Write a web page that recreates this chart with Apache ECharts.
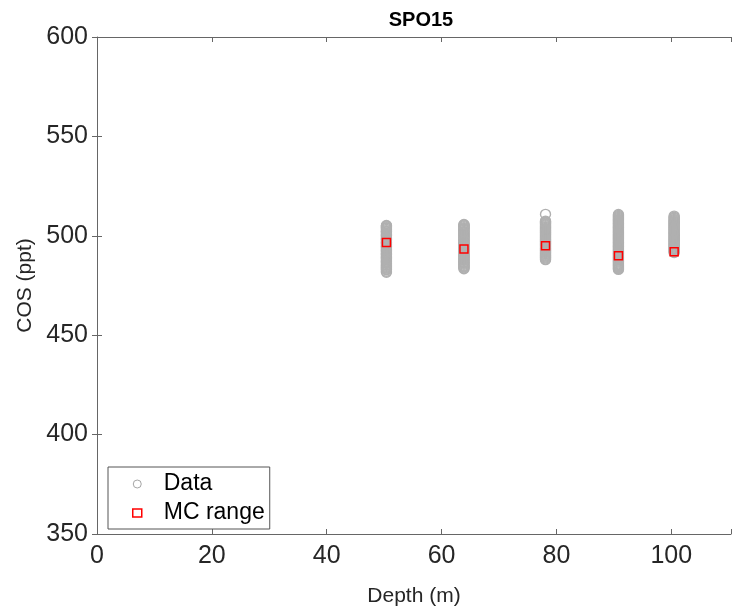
<!DOCTYPE html>
<html><head><meta charset="utf-8">
<script src="https://cdn.jsdelivr.net/npm/echarts@6/dist/echarts.min.js"></script>
<style>html,body{margin:0;padding:0;background:#fff}#c{width:734px;height:612px}</style>
</head><body><div id="c"></div>
<script>
const depths = [50.4, 63.9, 78.1, 90.8, 100.5];
const col1 = [481.7, 482.2, 482.9, 483.3, 483.8, 484.2, 484.6, 485.1, 485.5, 486.1, 486.7, 487.0, 487.4, 488.0, 488.6, 488.9, 489.3, 489.9, 490.5, 490.8, 491.2, 491.8, 492.4, 492.7, 493.1, 493.7, 494.3, 494.6, 495.0, 495.6, 496.2, 496.5, 496.9, 497.5, 498.1, 498.4, 498.8, 499.4, 500.0, 500.3, 500.7, 501.3, 501.9, 502.2, 502.6, 503.2, 503.8, 504.1, 504.5, 504.9, 505.2];
const col2 = [483.4, 483.8, 484.3, 484.7, 485.1, 485.7, 486.2, 486.6, 487.0, 487.6, 488.1, 488.5, 488.9, 489.5, 490.0, 490.4, 490.8, 491.4, 491.9, 492.3, 492.7, 493.3, 493.8, 494.2, 494.6, 495.2, 495.7, 496.1, 496.5, 497.1, 497.6, 498.0, 498.4, 499.0, 499.5, 499.9, 500.3, 500.9, 501.4, 501.8, 502.2, 502.8, 503.3, 503.7, 504.1, 504.6, 505.0, 505.4, 505.7];
const col3 = [488.0, 488.4, 488.9, 489.3, 489.8, 490.2, 490.7, 491.1, 491.6, 492.0, 492.5, 492.9, 493.4, 493.8, 494.3, 494.7, 495.2, 495.6, 496.1, 496.5, 497.0, 497.4, 497.9, 498.3, 498.8, 499.2, 499.7, 500.1, 500.6, 501.0, 501.5, 501.9, 502.4, 502.8, 503.3, 503.7, 504.2, 504.6, 505.1, 505.5, 506.0, 506.4, 506.8, 507.1, 507.4, 510.8];
const col4 = [483.1, 483.5, 484.0, 484.5, 485.0, 485.4, 485.9, 486.4, 486.9, 487.3, 487.8, 488.3, 488.8, 489.2, 489.7, 490.2, 490.7, 491.1, 491.6, 492.1, 492.6, 493.0, 493.5, 494.0, 494.5, 494.9, 495.4, 495.9, 496.4, 496.8, 497.3, 497.8, 498.3, 498.7, 499.2, 499.7, 500.2, 500.6, 501.1, 501.6, 502.1, 502.5, 503.0, 503.5, 504.0, 504.4, 504.9, 505.4, 505.9, 506.3, 506.8, 507.3, 507.8, 508.2, 508.7, 509.2, 509.7, 510.2, 510.7];
const col5 = [491.6, 492.0, 492.5, 493.0, 493.5, 493.9, 494.4, 494.9, 495.4, 495.8, 496.3, 496.8, 497.3, 497.7, 498.2, 498.7, 499.2, 499.6, 500.1, 500.6, 501.1, 501.5, 502.0, 502.5, 503.0, 503.4, 503.9, 504.4, 504.9, 505.3, 505.8, 506.3, 506.8, 507.2, 507.7, 508.2, 508.8, 509.3, 509.9];
const mcRange = [496.6, 493.3, 495.0, 490.0, 492.0];
const xTickLabels = [0, 20, 40, 60, 80, 100];
const yTickLabels = [350, 400, 450, 500, 550, 600];

const columns = [col1, col2, col3, col4, col5];
const dataPts = [];
columns.forEach((col, i) => col.forEach(v => dataPts.push([depths[i], v])));
const mcPts = depths.map((d, i) => [d, mcRange[i]]);

const axisColor = '#666';
const txt = '#262626';
const font = 'Liberation Sans, Arial, Helvetica, sans-serif';

const chart = echarts.init(document.getElementById('c'), null, {renderer: 'canvas'});
chart.setOption({
  animation: false,
  backgroundColor: '#fff',
  title: {
    text: 'SPO15', left: 416, top: 5, textAlign: 'center',
    textStyle: {fontFamily: font, fontWeight: 'bold', fontSize: 20, color: '#000'}
  },
  grid: {left: 97, top: 37, right: 0, height: 503},
  legend: {
    orient: 'vertical', left: 108, top: 467,
    data: [
      {name: 'Data', icon: 'circle', itemStyle: {color: 'transparent', borderColor: '#a6a6a6', borderWidth: 1}},
      {name: 'MC range', icon: 'rect', itemStyle: {color: 'transparent', borderColor: '#ff0000', borderWidth: 1.5}}
    ],
    itemWidth: 9, itemHeight: 8, itemGap: 5,
    padding: [5, 5, 4, 24],
    borderColor: '#555', borderWidth: 1, backgroundColor: '#fff',
    textStyle: {fontFamily: font, fontSize: 23, color: '#000', lineHeight: 24, padding: [0, 0, 0, 17]}
  },
  xAxis: [{
    type: 'value', position: 'bottom', min: 0, max: 110.4, interval: 20,
    name: 'Depth (m)', nameLocation: 'middle', nameGap: 52,
    nameTextStyle: {fontFamily: font, fontSize: 21, color: txt},
    axisLine: {show: true, lineStyle: {color: axisColor, width: 1}},
    axisTick: {show: true, inside: true, length: 5, lineStyle: {color: axisColor}},
    axisLabel: {fontFamily: font, fontSize: 25, color: txt, margin: 10,
      formatter: v => xTickLabels.includes(v) ? String(v) : ''},
    splitLine: {show: false}
  }, {
    type: 'value', position: 'top', min: 0, max: 110.4, interval: 20,
    axisLine: {show: true, lineStyle: {color: axisColor, width: 1}},
    axisTick: {show: true, inside: true, length: 5, lineStyle: {color: axisColor}},
    axisLabel: {show: false}, splitLine: {show: false}
  }],
  yAxis: [{
    type: 'value', position: 'left', min: 350, max: 600, interval: 50,
    name: 'COS (ppt)', nameLocation: 'middle', nameGap: 46, nameRotate: 90,
    nameTextStyle: {fontFamily: font, fontSize: 21, color: txt},
    axisLine: {show: true, lineStyle: {color: axisColor, width: 1}},
    axisTick: {show: true, inside: true, length: 5, lineStyle: {color: axisColor}},
    axisLabel: {fontFamily: font, fontSize: 25, color: txt, margin: 9,
      formatter: v => yTickLabels.includes(v) ? String(v) : ''},
    splitLine: {show: false}
  }, {
    type: 'value', position: 'right', min: 350, max: 600, interval: 50,
    axisLine: {show: false},
    axisTick: {show: true, inside: true, length: 5, lineStyle: {color: axisColor}},
    axisLabel: {show: false}, splitLine: {show: false}
  }],
  series: [{
    name: 'Data', type: 'scatter', xAxisIndex: 0, yAxisIndex: 0,
    data: dataPts, symbol: 'circle', symbolSize: 10,
    itemStyle: {color: 'transparent', borderColor: '#b0b0b0', borderWidth: 1.4, opacity: 1},
    emphasis: {disabled: true}
  }, {
    name: 'MC range', type: 'scatter', xAxisIndex: 0, yAxisIndex: 0,
    data: mcPts, symbol: 'rect', symbolSize: 8,
    itemStyle: {color: 'transparent', borderColor: '#ff0000', borderWidth: 1.5, opacity: 1},
    emphasis: {disabled: true}, z: 3
  }]
});
</script></body></html>
